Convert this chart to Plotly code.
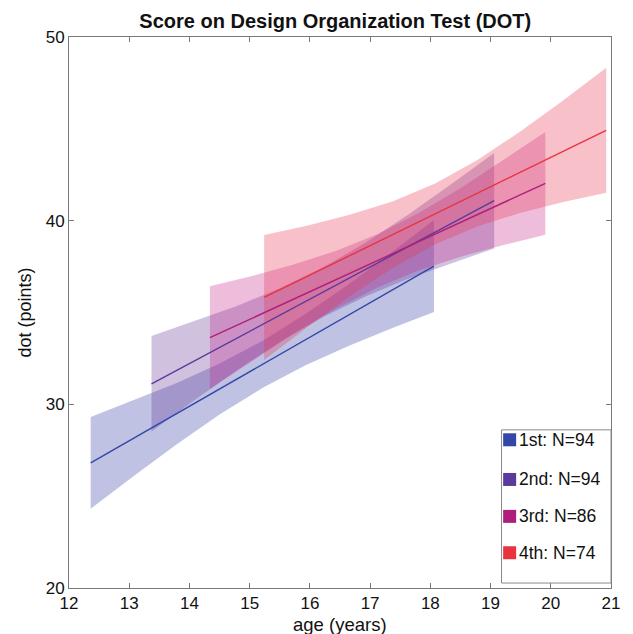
import plotly.graph_objects as go

# ---------------- data ----------------
group_labels = ["1st: N=94", "2nd: N=94", "3rd: N=86", "4th: N=74"]

# fitted line: start/end age and value
line_age_start = [12.36, 13.37, 14.34, 15.24]
line_age_end = [18.06, 19.06, 19.91, 20.92]
line_val_start = [26.81, 31.12, 33.63, 35.82]
line_val_end = [37.53, 41.09, 42.03, 44.92]

# confidence bands
band1_age = [12.36, 13.07, 13.79, 14.50, 15.21, 15.92, 16.64, 17.35, 18.06]
band1_upper = [29.31, 30.21, 31.16, 32.22, 33.45, 34.90, 36.52, 38.25, 40.03]
band1_lower = [24.31, 26.09, 27.82, 29.44, 30.89, 32.12, 33.18, 34.13, 35.03]

band2_age = [13.37, 14.08, 14.79, 15.50, 16.22, 16.93, 17.64, 18.35, 19.06]
band2_upper = [33.72, 34.52, 35.36, 36.32, 37.46, 38.81, 40.35, 41.99, 43.69]
band2_lower = [28.52, 30.22, 31.86, 33.40, 34.76, 35.89, 36.85, 37.69, 38.49]

band3_age = [14.34, 15.04, 15.73, 16.43, 17.13, 17.82, 18.52, 19.21, 19.91]
band3_upper = [36.43, 36.99, 37.61, 38.35, 39.28, 40.45, 41.81, 43.29, 44.83]
band3_lower = [30.83, 32.37, 33.85, 35.21, 36.38, 37.31, 38.05, 38.67, 39.23]

band4_age = [15.24, 15.95, 16.66, 17.37, 18.08, 18.79, 19.50, 20.21, 20.92]
band4_upper = [39.22, 39.73, 40.32, 41.04, 42.02, 43.32, 44.87, 46.55, 48.32]
band4_lower = [32.42, 34.19, 35.88, 37.42, 38.72, 39.70, 40.43, 41.01, 41.52]

x_ticks = [12, 13, 14, 15, 16, 17, 18, 19, 20, 21]
y_ticks = [20, 30, 40, 50]

# ---------------- styling ----------------
line_colors = ["#3447a8", "#5a3a9c", "#ae1f7c", "#e8343f"]
band_colors = ["rgba(60,70,170,0.33)", "rgba(100,50,150,0.30)",
               "rgba(195,35,135,0.30)", "rgba(232,50,80,0.30)"]
FONT = "Liberation Sans, Arial, Helvetica, sans-serif"
TXT = "#111111"

bands = [(band1_age, band1_upper, band1_lower),
         (band2_age, band2_upper, band2_lower),
         (band3_age, band3_upper, band3_lower),
         (band4_age, band4_upper, band4_lower)]

fig = go.Figure()

for i, (ages, up, lo) in enumerate(bands):
    fig.add_trace(go.Scatter(
        x=list(ages) + list(ages)[::-1],
        y=list(up) + list(lo)[::-1],
        fill="toself", fillcolor=band_colors[i],
        line=dict(width=0), mode="lines",
        hoverinfo="skip", showlegend=False))

for i in range(4):
    fig.add_trace(go.Scatter(
        x=[line_age_start[i], line_age_end[i]],
        y=[line_val_start[i], line_val_end[i]],
        mode="lines", line=dict(color=line_colors[i], width=1.4),
        name=group_labels[i], showlegend=False))

# ---------------- manual legend box ----------------
L_x0, L_x1 = 0.798, 1.0   # paper coords
L_y0, L_y1 = 0.009, 0.287
fig.add_shape(type="rect", xref="paper", yref="paper",
              x0=L_x0, x1=L_x1, y0=L_y0, y1=L_y1,
              line=dict(color="#8a8a8a", width=1), fillcolor="white")
entry_y = [0.269, 0.197, 0.130, 0.064]
sq_w = 13 / 542
sq_h = 13 / 551
for i in range(4):
    cx = L_x0 + 0.003
    fig.add_shape(type="rect", xref="paper", yref="paper",
                  x0=cx, x1=cx + sq_w,
                  y0=entry_y[i] - sq_h / 2, y1=entry_y[i] + sq_h / 2,
                  line=dict(width=0), fillcolor=line_colors[i])
    fig.add_annotation(xref="paper", yref="paper", x=cx + sq_w + 0.002,
                       y=entry_y[i], text=group_labels[i], showarrow=False,
                       xanchor="left", yanchor="middle",
                       font=dict(family=FONT, size=17.5, color=TXT))

# x-axis title placed as an annotation so it stays inside the page
fig.add_annotation(xref="paper", yref="paper", x=0.5, y=-0.0655,
                   text="age (years)", showarrow=False,
                   xanchor="center", yanchor="middle",
                   font=dict(family=FONT, size=18.5, color=TXT))

axis_common = dict(showgrid=False, zeroline=False, showline=True,
                   linecolor="#7a7a7a", linewidth=1, mirror="ticks",
                   ticks="inside", ticklen=5, tickcolor="#7a7a7a",
                   automargin=False,
                   tickfont=dict(family=FONT, size=17, color=TXT))

fig.update_layout(
    width=633, height=634,
    margin=dict(l=61, r=30, t=29, b=54),
    paper_bgcolor="white", plot_bgcolor="white",
    title=dict(text="<b>Score on Design Organization Test (DOT)</b>",
               x=0.517, xanchor="center", y=0.991, yanchor="top",
               font=dict(family=FONT, size=20, color=TXT)),
    xaxis=dict(range=[12, 21], tickvals=x_ticks, **axis_common),
    yaxis=dict(range=[20, 50], tickvals=y_ticks,
               title=dict(text="dot (points)", standoff=9,
                          font=dict(family=FONT, size=18, color=TXT)),
               **axis_common),
    showlegend=False,
)

fig.write_html("out.html")
